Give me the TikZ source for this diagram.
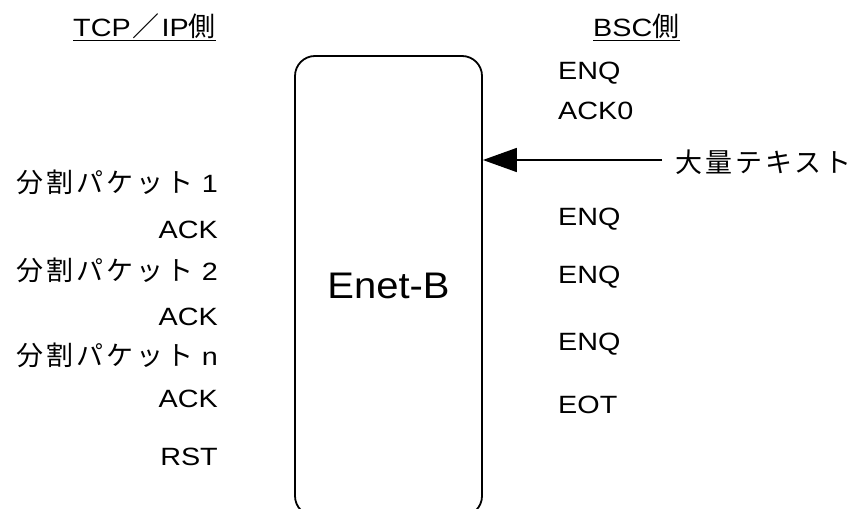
\documentclass[tikz,border=0pt]{standalone}
\usepackage{fontspec}
\setmainfont[FakeStretch=1.15]{Liberation Sans}
\newfontfamily\jp[LetterSpace=11]{Noto Sans CJK JP}
\newfontfamily\bigsans[FakeStretch=1.08]{Liberation Sans}
\usetikzlibrary{arrows.meta,positioning}
\tikzset{
  unit/.style={draw, line width=1.8pt, rounded corners=20pt, minimum width=187pt,
    minimum height=460pt, font=\bigsans\fontsize{37}{40}\selectfont},
  msg/.style={inner sep=0pt, font=\fontsize{25}{28}\selectfont},
  uline/.style={line width=1.3pt},
  bigarrow/.style={line width=1.6pt, -{Triangle[length=34pt,width=24pt]}},
}
\newcommand\jpt[1]{{\jp\fontsize{27}{30}\selectfont #1}}

\begin{document}
\begin{tikzpicture}[x=1pt,y=-1pt]
  \clip (0,0) rectangle (858,508);
  \useasboundingbox (0,0) rectangle (858,508);

  % the unit in the middle (runs off the bottom edge)
  \node[unit] (enet) at (388.5,286) {Enet-B};

  % column headings
  \node[msg,anchor=base west] (tcp) at (73,37) {TCP\hspace{2pt}\jpt{／}\hspace{2pt}IP\jpt{側}};
  \node[msg,anchor=base west] (bsc) at (593,37) {BSC\jpt{側}};
  \draw[uline] ([yshift=-3.7pt]tcp.base west) -- ([yshift=-3.7pt]tcp.base east);
  \draw[uline] ([yshift=-3.7pt]bsc.base west) -- ([yshift=-3.7pt]bsc.base east);

  % TCP/IP side
  \node[msg,anchor=base east] (pk1)  at (218,192) {\jpt{分割パケット}\hspace{8pt}1};
  \node[msg,anchor=base east] (ack1) at (218,238) {ACK};
  \node[msg,anchor=base east] (pk2)  at (218,280) {\jpt{分割パケット}\hspace{8pt}2};
  \node[msg,anchor=base east] (ack2) at (218,325) {ACK};
  \node[msg,anchor=base east] (pkn)  at (218,365) {\jpt{分割パケット}\hspace{8pt}n};
  \node[msg,anchor=base east] (ackn) at (218,407) {ACK};
  \node[msg,anchor=base east] (rst)  at (218,465) {RST};

  % BSC side
  \node[msg,anchor=base west] (enq0) at (558,80)  {ENQ};
  \node[msg,anchor=base west] (ack0) at (558,120) {ACK0};
  \node[msg,anchor=base west] (enq1) at (558,225) {ENQ};
  \node[msg,anchor=base west] (enq2) at (558,283) {ENQ};
  \node[msg,anchor=base west] (enq3) at (558,350) {ENQ};
  \node[msg,anchor=base west] (eot)  at (558,413) {EOT};

  % incoming bulk text
  \node[msg,anchor=base west] (bulk) at (675,172) {\jpt{大量テキスト}};
  \coordinate (tail) at (662,160);
  \draw[bigarrow] (tail) -- (tail -| enet.east);
\end{tikzpicture}
\end{document}
